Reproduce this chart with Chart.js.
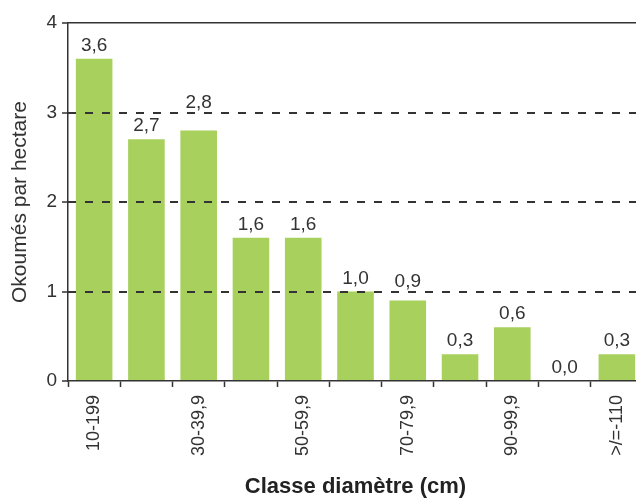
<!DOCTYPE html>
<html>
<head>
<meta charset="utf-8">
<script src="https://cdn.jsdelivr.net/npm/chart.js@4.4.0/dist/chart.umd.min.js"></script>
<style>
  html, body { margin: 0; padding: 0; background: #fff; overflow: hidden; }
  #wrap { width: 660px; height: 501px; }
</style>
</head>
<body>
<div id="wrap"><canvas id="chart"></canvas></div>
<script>
// diameter classes (only every other label is printed on the axis)
const categories = ['10-199', '20-29,9', '30-39,9', '40-49,9', '50-59,9', '60-69,9',
                    '70-79,9', '80-89,9', '90-99,9', '100-109,9', '>/=-110'];
const okoumes = [3.6, 2.7, 2.8, 1.6, 1.6, 1.0, 0.9, 0.3, 0.6, 0.0, 0.3];
const yTicks = [0, 1, 2, 3, 4];

const FONT = 'Liberation Sans, Arial, sans-serif';
const INK = '#333';

// value labels above each bar, nudged above a dashed line if they would sit on it
const valueLabels = {
    id: 'valueLabels',
    afterDraw(chart) {
        const ctx = chart.ctx;
        const yScale = chart.scales.y;
        const gridYs = [1, 2, 3].map(v => yScale.getPixelForValue(v));
        const meta = chart.getDatasetMeta(0);
        ctx.save();
        ctx.font = '19px ' + FONT;
        ctx.fillStyle = INK;
        ctx.textAlign = 'center';
        ctx.textBaseline = 'alphabetic';
        meta.data.forEach((bar, i) => {
            let y = bar.y - 8;
            gridYs.forEach(g => {
                if (g >= y - 14 && g <= y + 1) y = g - 5;
            });
            const txt = okoumes[i].toFixed(1).replace('.', ',');
            ctx.fillText(txt, bar.x, y);
        });
        ctx.restore();
    }
};

new Chart(document.getElementById('chart'), {
    type: 'bar',
    data: {
        labels: categories,
        datasets: [{
            label: 'Okoumés par hectare',
            data: okoumes,
            backgroundColor: '#a8d05c',
            borderWidth: 0,
            barPercentage: 0.7,
            categoryPercentage: 1.0
        }]
    },
    options: {
        responsive: true,
        maintainAspectRatio: false,
        animation: false,
        layout: { padding: { top: 23, right: 17, left: 0, bottom: 0 } },
        plugins: {
            legend: { display: false },
            tooltip: { enabled: false }
        },
        scales: {
            x: {
                position: 'bottom',
                afterFit: s => { s.height = 120; },
                grid: {
                    offset: true,
                    drawOnChartArea: false,
                    drawTicks: true,
                    tickLength: 6,
                    tickColor: INK,
                    tickWidth: 1.5
                },
                border: { display: true, color: INK, width: 1.5, z: 2 },
                ticks: {
                    autoSkip: false,
                    maxRotation: 90,
                    minRotation: 90,
                    padding: 8,
                    color: INK,
                    font: { family: FONT, size: 18 },
                    callback: (v, i) => (i % 2 === 0 ? categories[i] : '')
                },
                title: {
                    display: true,
                    text: 'Classe diamètre (cm)',
                    color: '#222',
                    font: { family: FONT, size: 22, weight: 'bold' },
                    padding: { top: 0, bottom: 1 }
                }
            },
            xTop: {
                type: 'category',
                position: 'top',
                labels: categories,
                afterFit: s => { s.height = 0; },
                grid: { display: false },
                ticks: { display: false },
                border: { display: true, color: INK, width: 1.5, z: 2 }
            },
            y: {
                min: 0,
                max: 4,
                weight: 1,
                afterFit: s => { s.width = 68; },
                afterBuildTicks: s => { s.ticks = yTicks.map(v => ({ value: v })); },
                grid: {
                    color: c => (c.tick && c.tick.value > 0 && c.tick.value < 4 ? INK : 'rgba(0,0,0,0)'),
                    lineWidth: 2,
                    drawTicks: true,
                    tickLength: 6,
                    tickColor: INK,
                    tickWidth: 1.5,
                    z: 1
                },
                border: { display: false, dash: [8, 9] },
                ticks: {
                    padding: 5,
                    color: INK,
                    font: { family: FONT, size: 19 }
                },
                title: {
                    display: true,
                    text: 'Okoumés par hectare',
                    color: INK,
                    font: { family: FONT, size: 21 },
                    padding: { top: 8, bottom: 0 }
                }
            },
            // solid left axis line
            yLine: {
                type: 'linear',
                position: 'left',
                weight: 0,
                min: 0,
                max: 4,
                afterFit: s => { s.width = 0; },
                grid: { display: false },
                ticks: { display: false },
                border: { display: true, color: INK, width: 1.5, z: 2 }
            }
        }
    },
    plugins: [valueLabels]
});
</script>
</body>
</html>
